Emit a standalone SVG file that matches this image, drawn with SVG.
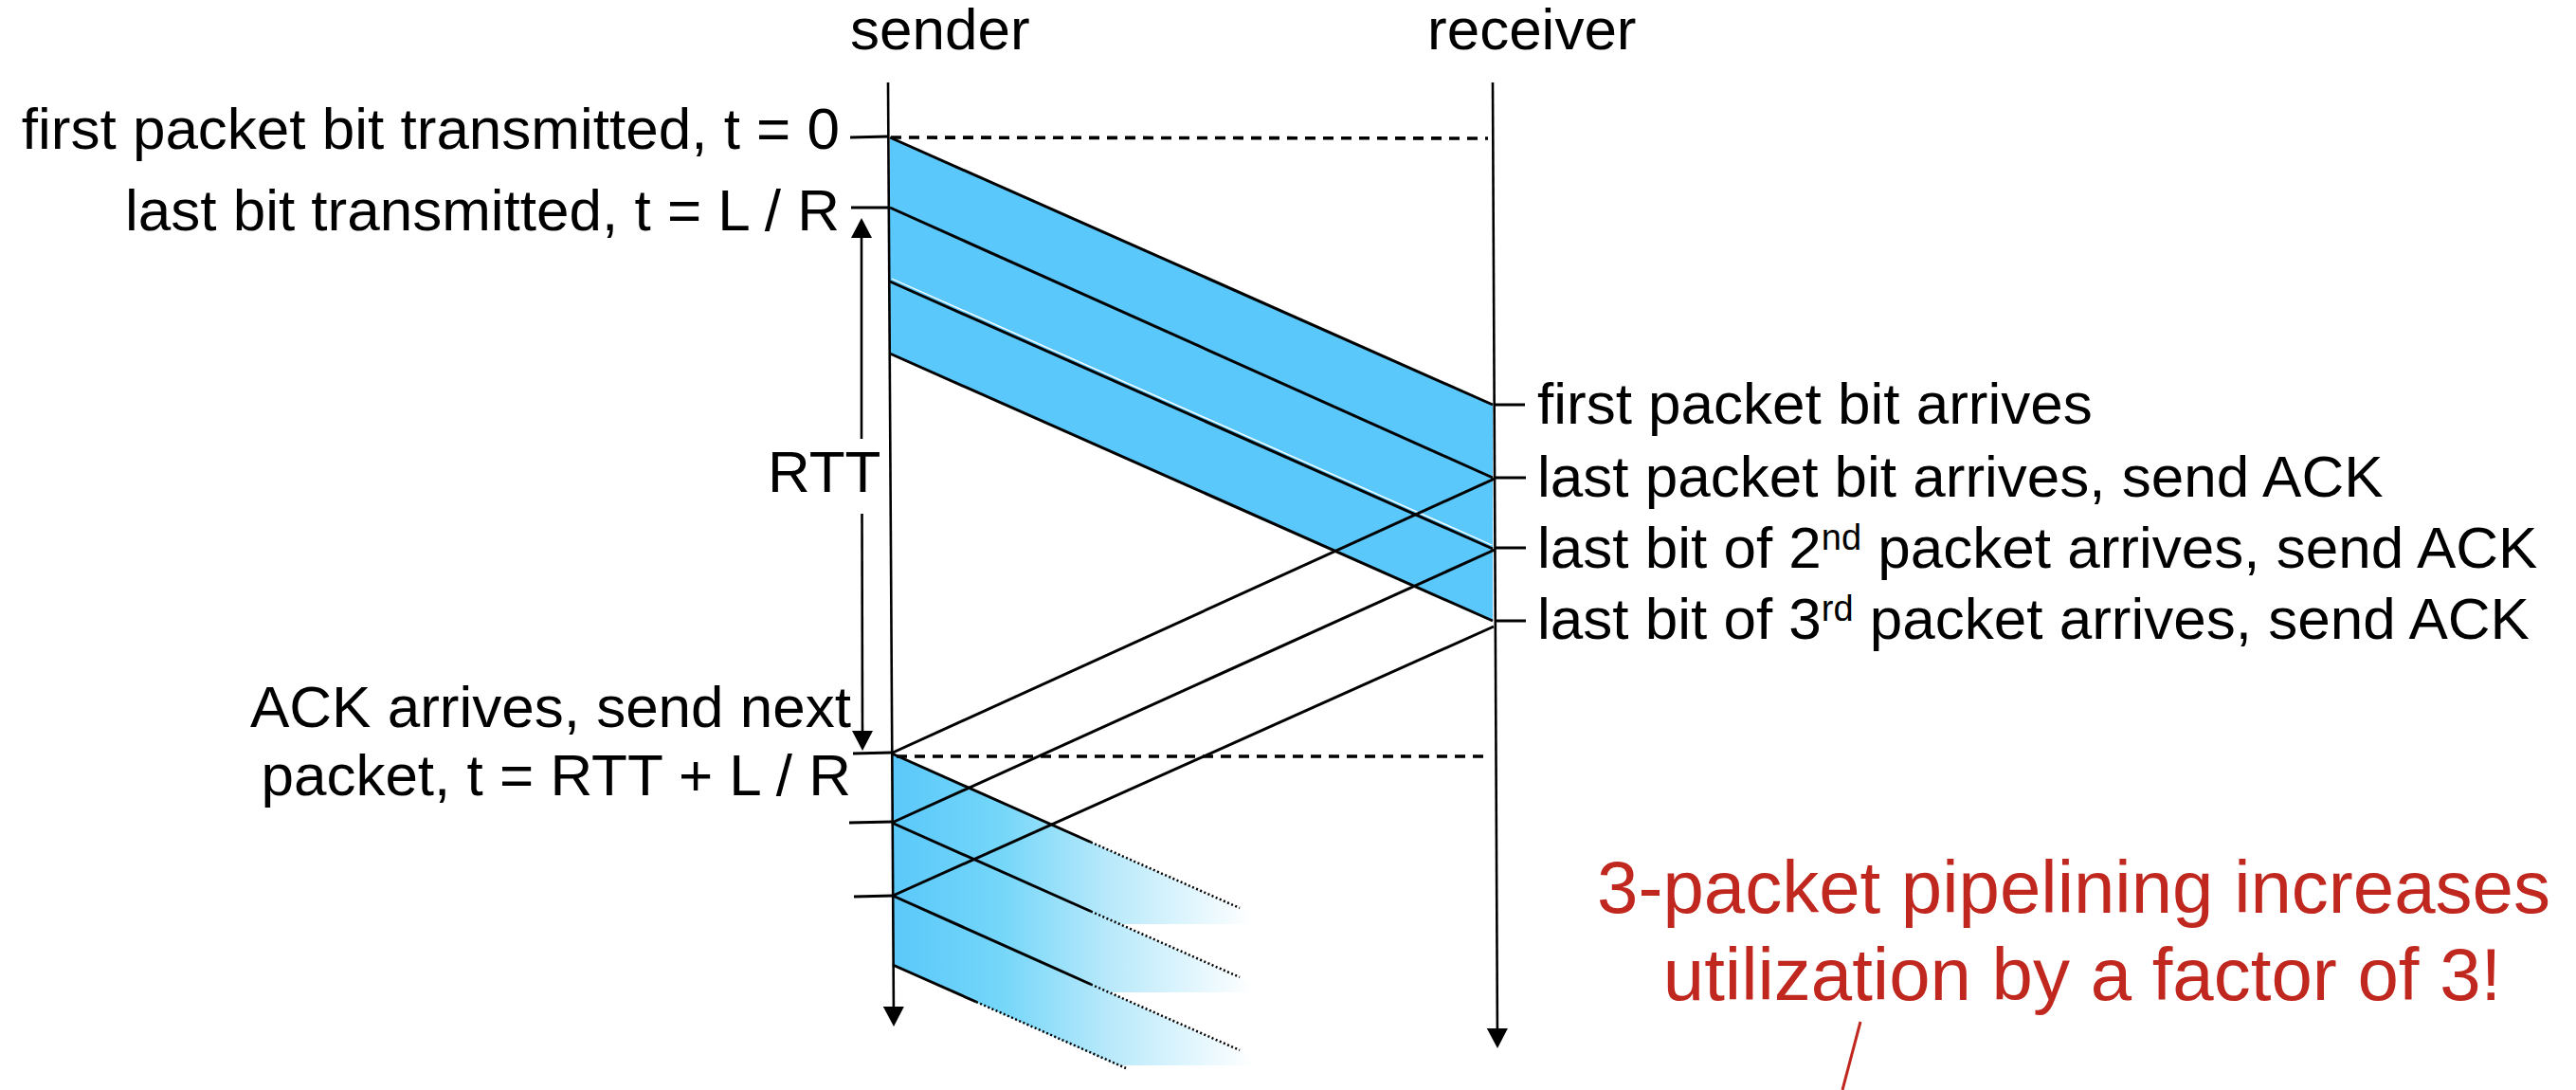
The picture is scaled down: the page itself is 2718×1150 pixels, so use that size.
<svg xmlns="http://www.w3.org/2000/svg" width="2718" height="1150" viewBox="0 0 2718 1150">
  <style>
    .t { font-family: "Liberation Sans", Arial, Helvetica, sans-serif; font-size: 62px; fill: #000; }
    .red { font-family: "Liberation Sans", Arial, Helvetica, sans-serif; font-size: 78px; fill: #C0271E; text-anchor: middle; }
    .end { text-anchor: end; }
    .axis { stroke: #000; stroke-width: 2.6; fill: none; }
    .edge { stroke: #000; stroke-width: 3; fill: none; }
    .tick { stroke: #000; stroke-width: 3.2; fill: none; }
    .dash { stroke: #000; stroke-width: 3.6; stroke-dasharray: 11 8; fill: none; }
    .dot { stroke: #000; stroke-width: 2.5; stroke-dasharray: 2 2.5; fill: none; }
    .pkt { fill: #5AC8FA; stroke: none; }
    .pkt2 { fill: url(#fade); stroke: none; }
  </style>
  <defs>
    <marker id="arr" viewBox="0 0 21 22" refX="0" refY="11" markerWidth="21" markerHeight="22" orient="auto" markerUnits="userSpaceOnUse">
      <path d="M0,0 L21,11 L0,22 z" fill="#000"/>
    </marker>
    <linearGradient id="fade" gradientUnits="userSpaceOnUse" x1="941" y1="0" x2="1322" y2="0">
      <stop offset="0" stop-color="#5AC8FA"/>
      <stop offset="0.3" stop-color="#74D6F9"/>
      <stop offset="0.6" stop-color="#B8E9FB"/>
      <stop offset="1" stop-color="#FFFFFF"/>
    </linearGradient>
  </defs>
  <rect width="2718" height="1150" fill="#fff"/>

  <g id="packets-round1">
    <polygon class="pkt" points="939,145 1575,427 1575,504 939,219"/>
    <polygon class="pkt" points="939,219 1575,504 1575,579 939,297"/>
    <polygon class="pkt" points="939,297 1575,579 1575,655 939,373"/>
    <line x1="941" y1="294" x2="1574" y2="575" stroke="#fff" stroke-width="1.3"/>
  </g>

  <g id="packets-round2">
    <polygon class="pkt2" points="941,795 1320,964 1320,975 1181,975 941,868"/>
    <polygon class="pkt2" points="941,868 1320,1037 1320,1047 1170,1047 941,945"/>
    <polygon class="pkt2" points="942,945 1320,1114 1320,1124 1179,1124 942,1018"/>
  </g>

  <g id="sender">
    <text class="t" x="897" y="52">sender</text>
    <line class="axis" x1="937" y1="87" x2="942.9" y2="1062" marker-end="url(#arr)"/>
  </g>

  <g id="receiver">
    <text class="t" x="1506" y="52">receiver</text>
    <line class="axis" x1="1575" y1="87" x2="1579.9" y2="1085" marker-end="url(#arr)"/>
  </g>

  <g id="connectors">
    <line class="dash" x1="940" y1="145" x2="1570" y2="146"/>
    <line class="dash" x1="946" y1="798" x2="1572" y2="798"/>
    <line class="edge" x1="939" y1="145" x2="1575" y2="427"/>
    <line class="edge" x1="939" y1="219" x2="1575" y2="504"/>
    <line class="edge" x1="939" y1="297" x2="1575" y2="579"/>
    <line class="edge" x1="939" y1="373" x2="1575" y2="655"/>
    <line class="edge" x1="1577" y1="505" x2="942" y2="794"/>
    <line class="edge" x1="1577" y1="580" x2="941" y2="868"/>
    <line class="edge" x1="1576" y1="661" x2="942" y2="945"/>
    <line class="edge" x1="941" y1="795" x2="1151" y2="888.5"/>
    <line class="dot" x1="1151" y1="888.5" x2="1308" y2="958"/>
    <line class="edge" x1="941" y1="868" x2="1151" y2="961.5" stroke-width="3.5"/>
    <line class="dot" x1="1151" y1="961.5" x2="1308" y2="1031"/>
    <line class="edge" x1="942" y1="945" x2="1151" y2="1038.5" stroke-width="3.5"/>
    <line class="dot" x1="1151" y1="1038.5" x2="1308" y2="1108"/>
    <line class="edge" x1="942" y1="1018" x2="1030" y2="1057"/>
    <line class="dot" x1="1030" y1="1057" x2="1188" y2="1127"/>
    <line class="axis" x1="909" y1="463" x2="909" y2="251" marker-end="url(#arr)"/>
    <line class="axis" x1="909.5" y1="542" x2="910" y2="771" marker-end="url(#arr)"/>
  </g>

  <g id="ticks">
    <line class="tick" x1="897" y1="145" x2="937" y2="144"/>
    <line class="tick" x1="898" y1="219" x2="938" y2="219"/>
    <line class="tick" x1="900" y1="795" x2="941" y2="794"/>
    <line class="tick" x1="896" y1="868" x2="941" y2="867"/>
    <line class="tick" x1="901" y1="946" x2="942" y2="945"/>
    <line class="tick" x1="1576" y1="427" x2="1609" y2="427"/>
    <line class="tick" x1="1577" y1="504" x2="1610" y2="504"/>
    <line class="tick" x1="1577" y1="578" x2="1610" y2="578"/>
    <line class="tick" x1="1577" y1="655" x2="1610" y2="655"/>
  </g>

  <g id="sender-labels">
    <text class="t end" x="886" y="157">first packet bit transmitted, t = 0</text>
    <text class="t end" x="886" y="243">last bit transmitted, t = L / R</text>
    <text class="t" x="810" y="519">RTT</text>
    <text class="t end" x="898" y="767">ACK arrives, send next</text>
    <text class="t end" x="898" y="839">packet, t = RTT + L / R</text>
  </g>

  <g id="receiver-labels">
    <text class="t" x="1622" y="447">first packet bit arrives</text>
    <text class="t" x="1622" y="524">last packet bit arrives, send ACK</text>
    <text class="t" x="1622" y="599">last bit of 2<tspan font-size="38" dy="-19">nd</tspan><tspan dy="19"> packet arrives, send ACK</tspan></text>
    <text class="t" x="1622" y="674">last bit of 3<tspan font-size="38" dy="-19">rd</tspan><tspan dy="19"> packet arrives, send ACK</tspan></text>
  </g>

  <g id="note">
    <text class="red" x="2188" y="963">3-packet pipelining increases</text>
    <text class="red" x="2197" y="1055">utilization by a factor of 3!</text>
    <line x1="1963" y1="1078" x2="1944" y2="1150" stroke="#C0271E" stroke-width="3"/>
  </g>
</svg>
